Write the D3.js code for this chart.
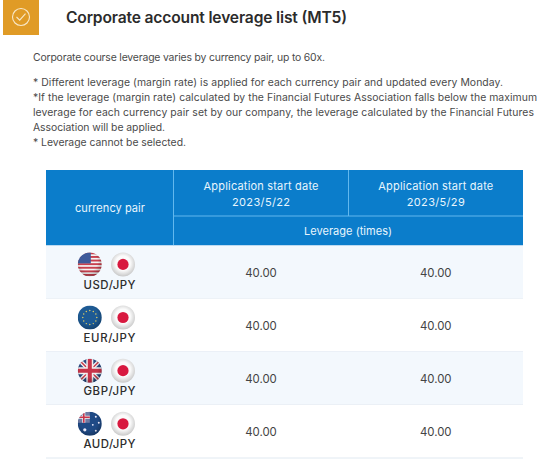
<!DOCTYPE html>
<html><head><meta charset="utf-8">
<script src="https://cdn.jsdelivr.net/npm/d3@7"></script>
<style>html,body{margin:0;padding:0;background:#fff}svg{display:block}text{font-family:"Inter","Liberation Sans",sans-serif}</style>
</head><body><div id="c"></div>
<script>
const titleText = "Corporate account leverage list (MT5)";
const introLines = [
  ["Corporate course leverage varies by currency pair, up to 60x.", 325, 61],
  ["* Different leverage (margin rate) is applied for each currency pair and updated every Monday.", 503, 86],
  ["*If the leverage (margin rate) calculated by the Financial Futures Association falls below the maximum", 537, 101],
  ["leverage for each currency pair set by our company, the leverage calculated by the Financial Futures", 534, 116],
  ["Association will be applied.", 165, 131],
  ["* Leverage cannot be selected.", 186, 146]
];
const pairs = ["USD/JPY", "EUR/JPY", "GBP/JPY", "AUD/JPY"];
const startDates = ["2023/5/22", "2023/5/29"];
const leverage22 = [40, 40, 40, 40];
const leverage29 = [40, 40, 40, 40];

const W = 554, H = 461;
const svg = d3.select("#c").append("svg").attr("width", W).attr("height", H);
const defs = svg.append("defs");
const shade = defs.append("radialGradient").attr("id", "shade").attr("cx", "45%").attr("cy", "40%").attr("r", "62%");
shade.append("stop").attr("offset", "60%").attr("stop-color", "#000").attr("stop-opacity", 0);
shade.append("stop").attr("offset", "100%").attr("stop-color", "#000").attr("stop-opacity", .28);
const jp = defs.append("radialGradient").attr("id", "jp").attr("cx", "50%").attr("cy", "45%").attr("r", "55%");
jp.append("stop").attr("offset", "55%").attr("stop-color", "#fbfbfb");
jp.append("stop").attr("offset", "100%").attr("stop-color", "#c9c9c9");
const FLAG_R = 12;
defs.append("clipPath").attr("id", "disc").append("circle").attr("r", FLAG_R);

// Heading
svg.append("rect").attr("x", 3).attr("y", 0).attr("width", 36).attr("height", 35).attr("fill", "#e09b26");
svg.append("circle").attr("cx", 21).attr("cy", 17).attr("r", 8.5).attr("fill", "none").attr("stroke", "#f8e8c8").attr("stroke-width", 1.1);
svg.append("path").attr("d", "M16.5 17l3.2 3.2 5.8-6.6").attr("fill", "none").attr("stroke", "#f8e8c8").attr("stroke-width", 1.1);
svg.append("text").text(titleText).attr("x", 66).attr("y", 22.5).attr("font-size", 15.6).attr("font-weight", 600)
  .attr("fill", "#2b2b2b").attr("textLength", 281).attr("lengthAdjust", "spacing");

svg.selectAll("text.intro").data(introLines).join("text").attr("class", "intro")
  .text(d => d[0]).attr("x", 33).attr("y", d => d[2]).attr("font-size", 10.4).attr("fill", "#4a4a4a")
  .attr("textLength", d => d[1] - 33).attr("lengthAdjust", "spacing");

// Table scales
const colX = d3.scaleOrdinal().domain(["pair", "d0", "d1", "end"]).range([46, 173.5, 348.5, 523]);
const rowY = d3.scaleBand().domain(pairs).range([245.5, 458]);
const HEAD = "#0b7dcb", LINE = "#62b8ee";

// Header
svg.append("rect").attr("x", colX("pair")).attr("y", 170).attr("width", colX("end") - colX("pair")).attr("height", 75.5).attr("fill", HEAD);
const hl = [[173.5,170,173.5,245.5],[348.5,170,348.5,216],[173.5,216,523,216]];
svg.selectAll("line.h").data(hl).join("line").attr("class", "h")
  .attr("x1", d => d[0]).attr("y1", d => d[1]).attr("x2", d => d[2]).attr("y2", d => d[3])
  .attr("stroke", LINE).attr("stroke-width", 1);
const hText = (t, x, y, len) => svg.append("text").text(t).attr("x", x).attr("y", y).attr("text-anchor", "middle")
  .attr("font-size", 11).attr("fill", "#e8f5fd").attr("textLength", len).attr("lengthAdjust", "spacing");
hText("currency pair", 110, 212, 70);
["d0", "d1"].forEach((c, i) => {
  const cx = (colX(c) + colX(i ? "end" : "d1")) / 2;
  hText("Application start date", cx, 189.5, 115);
  hText(startDates[i], cx, 205.5, 58);
});
hText("Leverage (times)", 348, 235, 88);

// Rows
const rows = svg.selectAll("g.row").data(pairs).join("g").attr("class", "row").attr("transform", d => `translate(0,${rowY(d)})`);
rows.append("rect").attr("x", 46).attr("width", 477).attr("height", rowY.bandwidth())
  .attr("fill", (d, i) => i % 2 ? "#fff" : "#f3f8fd");
rows.append("line").attr("x1", 46).attr("x2", 523).attr("y1", rowY.bandwidth()).attr("y2", rowY.bandwidth()).attr("stroke", "#e0e9f1");
rows.append("text").text(d => d).attr("x", 109.5).attr("y", 43).attr("text-anchor", "middle").attr("font-size", 11.4)
  .attr("font-weight", 500).attr("fill", "#2c2c2c").attr("textLength", 52).attr("lengthAdjust", "spacing");
const val = d3.format(".2f");
[[leverage22, "d0", "d1"], [leverage29, "d1", "end"]].forEach(([vals, a, b]) => {
  rows.append("text").text((d, i) => val(vals[i])).attr("x", (colX(a) + colX(b)) / 2).attr("y", 31)
    .attr("text-anchor", "middle").attr("font-size", 11.4).attr("fill", "#444");
});

// Flags
function usd(g) {
  g.append("rect").attr("x", -12).attr("y", -12).attr("width", 24).attr("height", 24).attr("fill", "#f4f4f4");
  d3.range(7).forEach(i => g.append("rect").attr("x", -12).attr("y", -12 + i * 3.6).attr("width", 24).attr("height", 1.9).attr("fill", "#c8404e"));
  g.append("rect").attr("x", -12).attr("y", -12).attr("width", 13).attr("height", 11).attr("fill", "#3d5a9a");
}
function eur(g) {
  g.append("rect").attr("x", -12).attr("y", -12).attr("width", 24).attr("height", 24).attr("fill", "#1d5a94");
  d3.range(12).forEach(i => g.append("circle").attr("r", .7).attr("fill", "#e8d060")
    .attr("cx", 7 * Math.cos(i * Math.PI / 6)).attr("cy", 7 * Math.sin(i * Math.PI / 6)));
}
function gbp(g) {
  g.append("rect").attr("x", -12).attr("y", -12).attr("width", 24).attr("height", 24).attr("fill", "#2a4a80");
  g.append("path").attr("d", "M-12-12L12 12M12-12L-12 12").attr("stroke", "#f2f2f2").attr("stroke-width", 4);
  g.append("path").attr("d", "M-12-12L12 12M12-12L-12 12").attr("stroke", "#c83a4a").attr("stroke-width", 1.4);
  g.append("path").attr("d", "M0-12V12M-12 0H12").attr("stroke", "#f2f2f2").attr("stroke-width", 7);
  g.append("path").attr("d", "M0-12V12M-12 0H12").attr("stroke", "#c8344a").attr("stroke-width", 4);
}
function aud(g) {
  g.append("rect").attr("x", -12).attr("y", -12).attr("width", 24).attr("height", 24).attr("fill", "#1f4a86");
  g.append("rect").attr("x", -12).attr("y", -12).attr("width", 12).attr("height", 11).attr("fill", "#6f7aa3");
  g.append("path").attr("d", "M-6-12V-1M-12-6.5H0").attr("stroke", "#f2f2f2").attr("stroke-width", 3);
  g.append("path").attr("d", "M-6-12V-1M-12-6.5H0").attr("stroke", "#c8344a").attr("stroke-width", 1.6);
  [[-5,6,1.6],[6,-7,1],[9,-1,1],[3,1,.9],[6,7,1]].forEach(s => g.append("circle").attr("cx", s[0]).attr("cy", s[1]).attr("r", s[2]).attr("fill", "#eef"));
}
const painters = { "USD/JPY": usd, "EUR/JPY": eur, "GBP/JPY": gbp, "AUD/JPY": aud };
rows.each(function (d) {
  const r = d3.select(this);
  const f = r.append("g").attr("transform", "translate(89.8,18.9)");
  const inner = f.append("g").attr("clip-path", "url(#disc)");
  painters[d](inner);
  inner.append("circle").attr("r", FLAG_R).attr("fill", "url(#shade)");
  const j = r.append("g").attr("transform", "translate(123,18.9)");
  j.append("circle").attr("r", FLAG_R).attr("fill", "url(#jp)");
  j.append("circle").attr("r", 5.6).attr("fill", "#d8193f");
});
</script></body></html>
